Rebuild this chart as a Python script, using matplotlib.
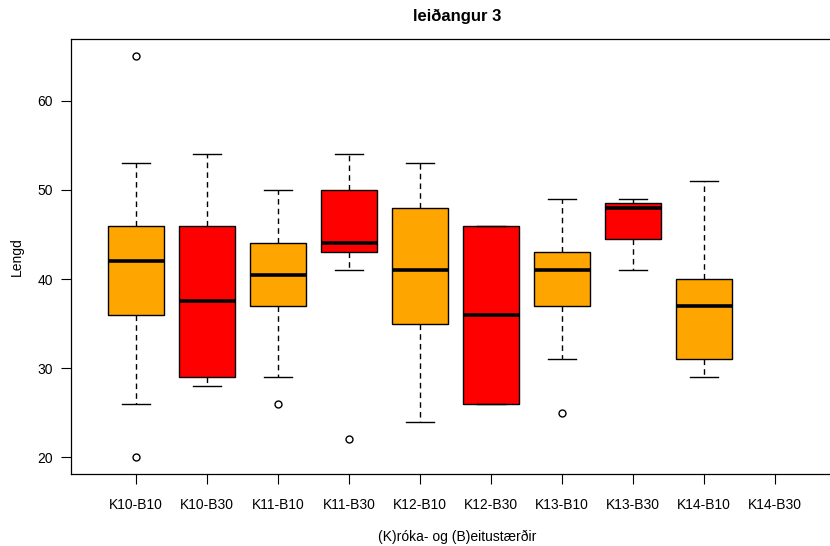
import matplotlib
matplotlib.use("Agg")
import matplotlib.pyplot as plt

plt.rcParams["font.family"] = ["Liberation Sans", "DejaVu Sans"]

categories = ["K10-B10", "K10-B30", "K11-B10", "K11-B30", "K12-B10",
              "K12-B30", "K13-B10", "K13-B30", "K14-B10", "K14-B30"]
# Five-number summaries for the groups that have data (K14-B30 is empty)
lower_whisker = [26, 28, 29, 41, 24, 26, 31, 41, 29]
q1 = [36, 29, 37, 43, 35, 26, 37, 44.5, 31]
medians = [42, 37.5, 40.5, 44, 41, 36, 41, 48, 37]
q3 = [46, 46, 44, 50, 48, 46, 43, 48.5, 40]
upper_whisker = [53, 54, 50, 54, 53, 46, 49, 49, 51]
outliers = [[65, 20], [], [26], [22], [], [], [25], [], []]
fill_colors = ["#FFA500", "#FF0000"]
y_ticks = [20, 30, 40, 50, 60]

W, H = 830, 546
left_px, right_px, top_px, bottom_px = 71, 843, 39, 474
fig = plt.figure(figsize=(W / 100, H / 100), dpi=100)
ax = fig.add_axes([left_px / W, (H - bottom_px) / H,
                   (right_px - left_px) / W, (bottom_px - top_px) / H])

stats = []
for i in range(len(medians)):
    stats.append(dict(med=medians[i], q1=q1[i], q3=q3[i],
                      whislo=lower_whisker[i], whishi=upper_whisker[i],
                      fliers=outliers[i], label=categories[i]))

bp = ax.bxp(stats, positions=list(range(1, len(stats) + 1)), widths=0.8,
            capwidths=0.4, patch_artist=True, manage_ticks=False,
            boxprops=dict(edgecolor="black", linewidth=1.0),
            whiskerprops=dict(color="black", linewidth=1.0, linestyle=(0, (4, 3))),
            capprops=dict(color="black", linewidth=1.0),
            medianprops=dict(color="black", linewidth=2.6, solid_capstyle="butt"),
            flierprops=dict(marker="o", markerfacecolor="none",
                            markeredgecolor="black", markersize=5,
                            markeredgewidth=1.0))
for i, patch in enumerate(bp["boxes"]):
    patch.set_facecolor(fill_colors[i % 2])

ax.set_xlim(1 - 65 / 71, 1 + (right_px - 136) / 71)
ax.set_ylim(18.13, 66.92)
ax.set_xticks(range(1, len(categories) + 1))
ax.set_xticklabels(categories, fontsize=10)
ax.set_yticks(y_ticks)
ax.set_yticklabels([str(t) for t in y_ticks], fontsize=10)
ax.tick_params(axis="x", length=7, width=0.8, pad=10)
ax.tick_params(axis="y", length=7, width=0.8, pad=6)
for side in ["left", "bottom", "top"]:
    ax.spines[side].set_color("black")
    ax.spines[side].set_linewidth(0.9)
ax.spines["right"].set_visible(False)

ax.set_title("leiðangur 3", fontsize=12, fontweight="bold", pad=13)
ax.set_xlabel("(K)róka- og (B)eitustærðir", fontsize=10, labelpad=13)
ax.set_ylabel("Lengd", fontsize=10, labelpad=10)

fig.savefig("out.png", dpi=100)
